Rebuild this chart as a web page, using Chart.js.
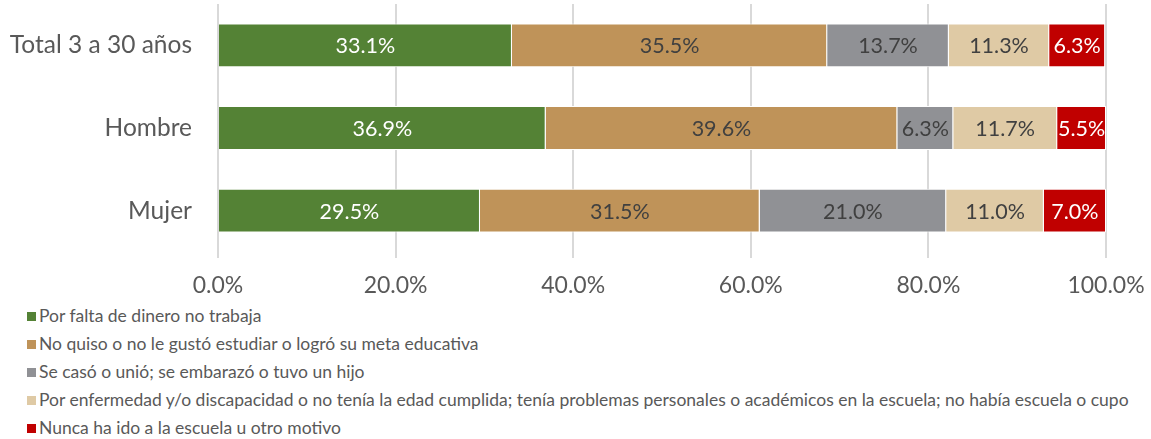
<!DOCTYPE html>
<html>
<head>
<meta charset="utf-8">
<script src="https://cdn.jsdelivr.net/npm/chart.js@4"></script>
<style>
  body { margin: 0; background: #fff; font-family: 'Lato', sans-serif; }
  #wrap { position: relative; width: 1151px; height: 439px; }
  #legend { position: absolute; left: 27px; top: 303px; }
  .item { height: 28px; line-height: 26px; font-size: 17.5px; color: #595959; white-space: nowrap; }
  .box { display: inline-block; width: 9px; height: 9px; margin-right: 3px; vertical-align: 1px; }
</style>
</head>
<body>
<div id="wrap">
  <canvas id="chart" width="1151" height="302"></canvas>
  <div id="legend"></div>
</div>
<script>
const categories = ["Total 3 a 30 años", "Hombre", "Mujer"];
const seriesNames = [
    "Por falta de dinero no trabaja",
    "No quiso o no le gustó estudiar o logró su meta educativa",
    "Se casó o unió; se embarazó o tuvo un hijo",
    "Por enfermedad y/o discapacidad o no tenía la edad cumplida; tenía problemas personales o académicos en la escuela; no había escuela o cupo",
    "Nunca ha ido a la escuela u otro motivo"
];
const dinero = [33.1, 36.9, 29.5];
const noQuiso = [35.5, 39.6, 31.5];
const casado = [13.7, 6.3, 21.0];
const enfermedad = [11.3, 11.7, 11.0];
const nunca = [6.3, 5.5, 7.0];
const tickValues = [0, 20, 40, 60, 80, 100];

const colors = ["#548235", "#BF9359", "#909195", "#DFCAA5", "#C00000"];
const labelColors = ["#ffffff", "#404040", "#404040", "#404040", "#ffffff"];
const seriesData = [dinero, noQuiso, casado, enfermedad, nunca];

// draw value labels in the middle of each segment
const valueLabels = {
    id: "valueLabels",
    afterDatasetsDraw(chart) {
        const ctx = chart.ctx;
        ctx.save();
        ctx.font = "21.5px 'Lato', sans-serif";
        ctx.textAlign = "center";
        ctx.textBaseline = "middle";
        chart.data.datasets.forEach((ds, i) => {
            const meta = chart.getDatasetMeta(i);
            meta.data.forEach((bar, j) => {
                const p = bar.getProps(["x", "base", "y"], true);
                ctx.fillStyle = labelColors[i];
                ctx.fillText(ds.data[j].toFixed(1) + "%", (p.x + p.base) / 2, p.y + 1);
            });
        });
        ctx.restore();
    }
};

new Chart(document.getElementById("chart"), {
    type: "bar",
    data: {
        labels: categories,
        datasets: seriesNames.map((name, i) => ({
            label: name,
            data: seriesData[i],
            backgroundColor: colors[i],
            borderColor: "#ffffff",
            borderWidth: 1,
            categoryPercentage: 1,
            barPercentage: 0.53
        }))
    },
    options: {
        indexAxis: "y",
        responsive: false,
        animation: false,
        layout: { padding: { top: 4, right: 45, left: 0, bottom: 0 } },
        plugins: { legend: { display: false }, tooltip: { enabled: false } },
        scales: {
            x: {
                stacked: true,
                min: 0,
                max: 100,
                afterBuildTicks: (axis) => { axis.ticks = tickValues.map(v => ({ value: v })); },
                afterFit: (axis) => { axis.height = 50; axis.paddingLeft = 0; axis.paddingRight = 0; },
                grid: { color: "#D9D9D9", lineWidth: 2, drawTicks: true, tickLength: 6 },
                border: { display: false },
                ticks: {
                    color: "#595959",
                    font: { family: "'Lato', sans-serif", size: 23 },
                    padding: 14,
                    maxRotation: 0,
                    callback: v => v.toFixed(1) + "%"
                }
            },
            y: {
                stacked: true,
                afterFit: (axis) => { axis.width = 218; axis.paddingTop = 0; axis.paddingBottom = 0; },
                grid: { display: false },
                border: { display: false },
                ticks: {
                    color: "#595959",
                    font: { family: "'Lato', sans-serif", size: 24.5 },
                    padding: 18
                }
            }
        }
    },
    plugins: [valueLabels]
});

const legend = document.getElementById("legend");
seriesNames.forEach((name, i) => {
    const d = document.createElement("div");
    d.className = "item";
    d.innerHTML = '<span class="box" style="background:' + colors[i] + '"></span>' + name;
    legend.appendChild(d);
});
</script>
</body>
</html>
